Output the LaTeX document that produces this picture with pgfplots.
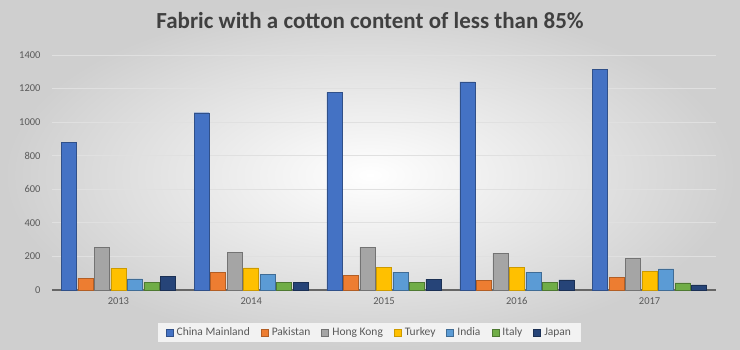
\documentclass[border=0pt]{standalone}
\usepackage{pgfplots}
\pgfplotsset{compat=1.18}
\usepackage{fontspec}
\setmainfont{Carlito}
\definecolor{cChina}{HTML}{4472C4}
\definecolor{cPak}{HTML}{ED7D31}
\definecolor{cHK}{HTML}{A5A5A5}
\definecolor{cTur}{HTML}{FFC000}
\definecolor{cInd}{HTML}{5B9BD5}
\definecolor{cIta}{HTML}{70AD47}
\definecolor{cJap}{HTML}{264478}
\definecolor{txt}{HTML}{595959}
\begin{document}
\begin{tikzpicture}[x=1pt,y=1pt]
\shade[inner color=white, outer color=black!19] (0,0) rectangle (740,350);
\node[font=\fontsize{23}{26}\selectfont\bfseries, text=black!75] at (370,329) {Fabric with a cotton content of less than 85\%};
\begin{axis}[
  at={(52pt,60pt)}, anchor=south west,
  scale only axis, width=664pt, height=235pt,
  ybar=1.5pt, bar width=15pt,
  xmin=-0.5, xmax=4.5, ymin=0, ymax=1400,
  ytick={0,200,...,1400},
  xtick=data, xticklabels={2013,2014,2015,2016,2017},
  xtick style={draw=none}, ytick style={draw=none},
  axis x line*=bottom, axis y line*=left,
  y axis line style={draw=none},
  x axis line style={draw=black!60, line width=1.2pt},
  ymajorgrids, grid style={draw=black!12, line width=0.8pt},
  /pgf/number format/assume math mode=true,
  /pgf/number format/1000 sep={},
  ticklabel style={font=\fontsize{10.5}{12}\selectfont, text=txt},
  xticklabel style={text height=7pt, text depth=0pt},
  yticklabel style={xshift=-8pt},
  legend style={at={(0.478,-0.138)}, anchor=north, legend columns=7,
    draw=none, fill=black!5, font=\fontsize{11.5}{13}\selectfont, text=txt,
    /tikz/every odd column/.append style={column sep=1.5pt},
    /tikz/every even column/.append style={column sep=9pt},
    inner xsep=8pt, inner ysep=3pt},
  legend image code/.code={\draw[#1] (0pt,-3.5pt) rectangle (7pt,3.5pt);},
  enlarge y limits=false,
  clip=false,
]
\addplot[fill=cChina, draw=cChina!70!black] coordinates {(0,880) (1,1056) (2,1178) (3,1240) (4,1316)};
\addplot[fill=cPak, draw=cPak!75!black] coordinates {(0,70) (1,106) (2,86) (3,58) (4,74)};
\addplot[fill=cHK, draw=cHK!70!black] coordinates {(0,256) (1,226) (2,256) (3,220) (4,190)};
\addplot[fill=cTur, draw=cTur!80!black] coordinates {(0,130) (1,132) (2,134) (3,134) (4,110)};
\addplot[fill=cInd, draw=cInd!70!black] coordinates {(0,66) (1,94) (2,106) (3,106) (4,126)};
\addplot[fill=cIta, draw=cIta!70!black] coordinates {(0,46) (1,46) (2,46) (3,46) (4,42)};
\addplot[fill=cJap, draw=cJap!70!black] coordinates {(0,80) (1,44) (2,64) (3,60) (4,30)};
\legend{China Mainland, Pakistan, Hong Kong, Turkey, India, Italy, Japan}
\end{axis}
\end{tikzpicture}
\end{document}
